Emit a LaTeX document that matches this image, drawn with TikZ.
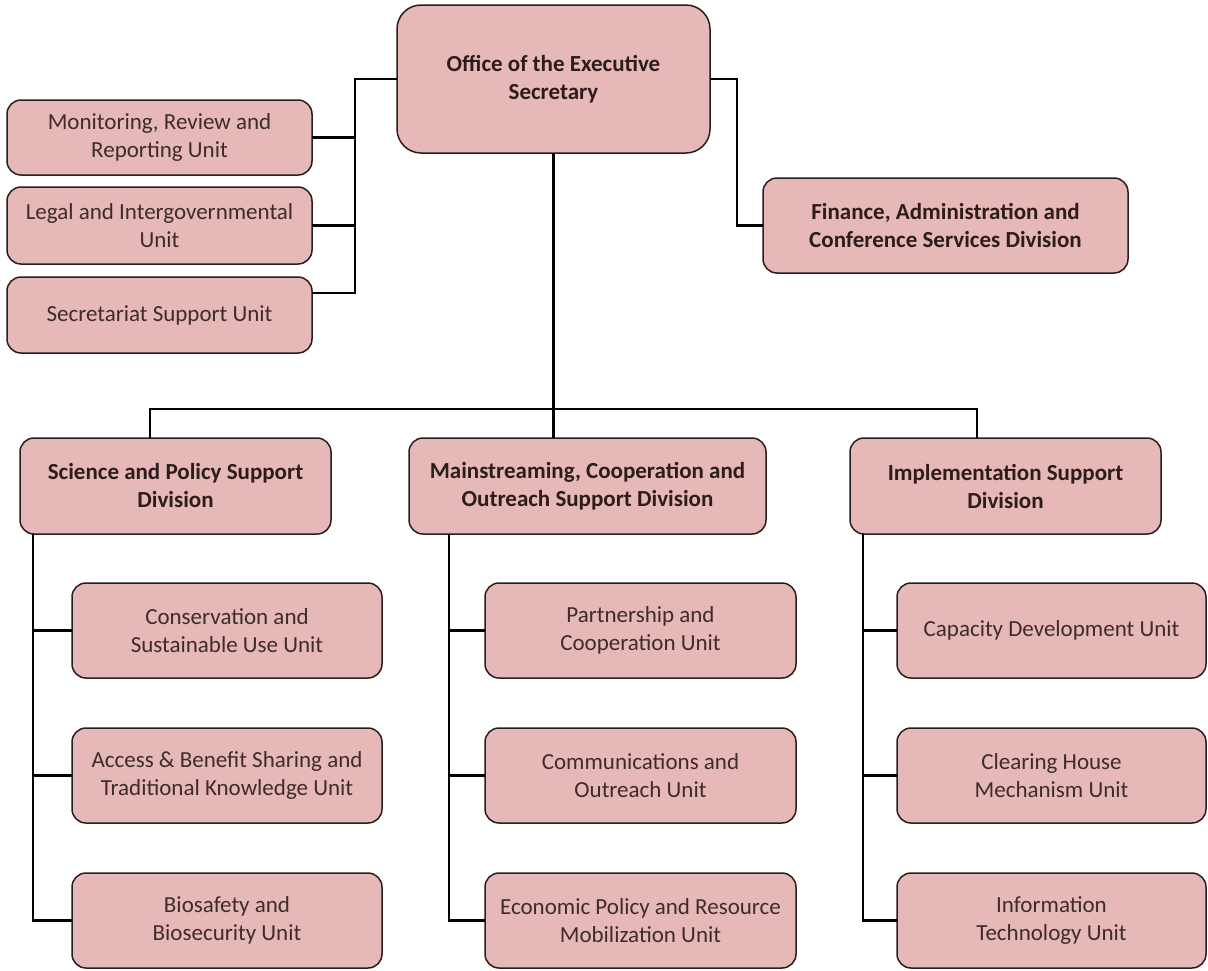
\documentclass[tikz,border=0pt]{standalone}
\usepackage{fontspec}
\setmainfont{Carlito}
\definecolor{boxfill}{RGB}{230,184,183}
\definecolor{boxline}{RGB}{40,30,30}
\definecolor{txtbold}{RGB}{45,28,28}
\definecolor{txtnorm}{RGB}{62,44,44}
\begin{document}
\begin{tikzpicture}[x=1pt,y=-1pt,
  box/.style={draw=boxline, line width=1.5pt, fill=boxfill, rounded corners=14pt,
    align=center, inner sep=0pt, outer sep=0pt, anchor=north west,
    font=\fontsize{23}{28}\selectfont, text=txtnorm},
  bbox/.style={box, font=\fontsize{23}{28}\selectfont\bfseries, text=txtbold},
  conn/.style={draw=black, line width=2.2pt}]
\useasboundingbox (0,0) rectangle (1208,970);
% top
\node[bbox, rounded corners=24pt, minimum width=313, minimum height=148] (office) at (397,5) {Office of the Executive\\Secretary};
\node[box, minimum width=305, minimum height=75] (mon) at (7,100) {Monitoring, Review and\\Reporting Unit};
\node[box, minimum width=305, minimum height=77] (leg) at (7,187) {Legal and Intergovernmental\\Unit};
\node[box, minimum width=305, minimum height=76] (sec) at (7,277) {Secretariat Support Unit};
\node[bbox, minimum width=365, minimum height=95] (fin) at (763,178) {Finance, Administration and\\Conference Services Division};
% divisions
\node[bbox, minimum width=311, minimum height=96] (sci) at (20,438) {Science and Policy Support\\Division};
\node[bbox, minimum width=357, minimum height=96] (main) at (409,438) {Mainstreaming, Cooperation and\\Outreach Support Division};
\node[bbox, minimum width=311, minimum height=96] (impl) at (850,438) {Implementation Support\\Division};
% science units
\node[box, minimum width=310, minimum height=95] (cons) at (72,583) {Conservation and\\Sustainable Use Unit};
\node[box, minimum width=310, minimum height=95] (abs) at (72,728) {Access \& Benefit Sharing and\\Traditional Knowledge Unit};
\node[box, minimum width=310, minimum height=95] (bio) at (72,873) {Biosafety and\\Biosecurity Unit};
% mainstreaming units
\node[box, minimum width=311, minimum height=95] (part) at (485,583) {Partnership and\\Cooperation Unit};
\node[box, minimum width=311, minimum height=95] (comm) at (485,728) {Communications and\\Outreach Unit};
\node[box, minimum width=311, minimum height=95] (econ) at (485,873) {Economic Policy and Resource\\Mobilization Unit};
% implementation units
\node[box, minimum width=309, minimum height=95] (cap) at (897,583) {Capacity Development Unit};
\node[box, minimum width=309, minimum height=95] (chm) at (897,728) {Clearing House\\Mechanism Unit};
\node[box, minimum width=309, minimum height=95] (itu) at (897,873) {Information\\Technology Unit};
% connectors top-left
\coordinate (lb) at (355,80);
\draw[conn] (office.west) -- (office.west -| lb) |- ([yshift=22pt]sec.east);
\draw[conn] (mon.east) -- (mon.east -| lb);
\draw[conn] (leg.east) -- (leg.east -| lb);
% top-right
\draw[conn] (office.east) -- ++(27,0) |- (fin.west);
% main bus
\coordinate (bus) at (553,409);
\draw[conn] (office.south) -- (office.south |- main.north);
\draw[conn] ([xshift=-25.5pt]sci.north) |- ([xshift=-28.5pt]impl.north |- bus) -- ([xshift=-28.5pt]impl.north);
% science sub bus
\coordinate (sb) at ([xshift=13pt]sci.south west);
\draw[conn] (sb) |- (bio.west);
\draw[conn] (cons.west) -- (cons.west -| sb);
\draw[conn] (abs.west) -- (abs.west -| sb);
% mainstreaming sub bus
\coordinate (mb) at ([xshift=40pt]main.south west);
\draw[conn] (mb) |- (econ.west);
\draw[conn] (part.west) -- (part.west -| mb);
\draw[conn] (comm.west) -- (comm.west -| mb);
% implementation sub bus
\coordinate (ib) at ([xshift=13pt]impl.south west);
\draw[conn] (ib) |- (itu.west);
\draw[conn] (cap.west) -- (cap.west -| ib);
\draw[conn] (chm.west) -- (chm.west -| ib);
\end{tikzpicture}
\end{document}
